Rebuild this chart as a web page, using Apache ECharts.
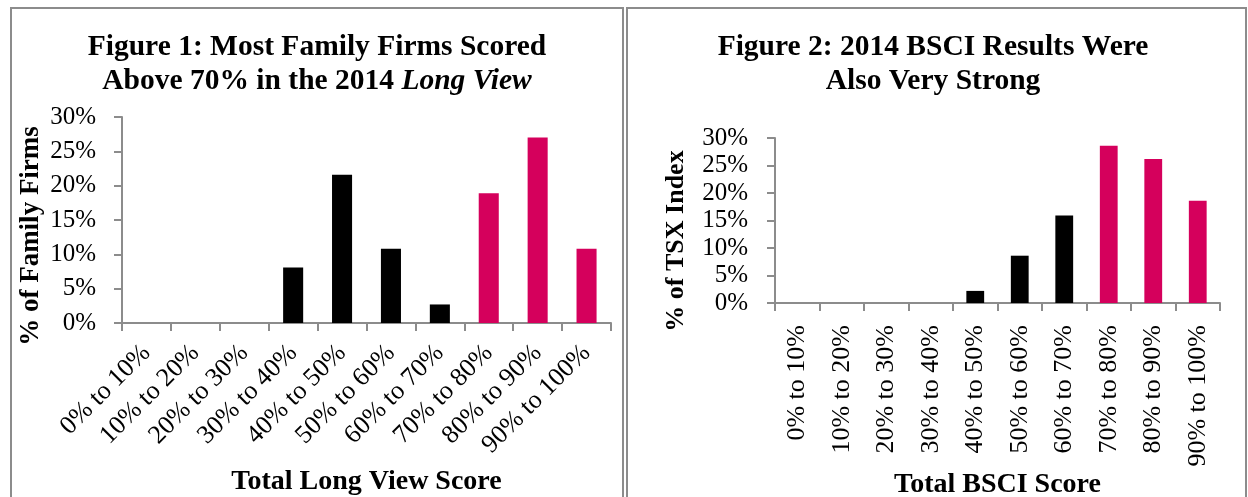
<!DOCTYPE html>
<html>
<head>
<meta charset="utf-8">
<script src="https://cdn.jsdelivr.net/npm/echarts@6/dist/echarts.min.js"></script>
<style>
  html, body { margin: 0; padding: 0; background: #fff; }
  #chart { width: 1248px; height: 497px; }
</style>
</head>
<body>
<div id="chart"></div>
<script>
// score bands (same for both figures)
const categories = ['0% to 10%', '10% to 20%', '20% to 30%', '30% to 40%', '40% to 50%',
  '50% to 60%', '60% to 70%', '70% to 80%', '80% to 90%', '90% to 100%']
// % of family firms, Long View score
const longViewValues = [0, 0, 0, 8.1, 21.6, 10.8, 2.7, 18.9, 27.0, 10.8]
// % of TSX index, BSCI score
const bsciValues = [0, 0, 0, 0, 2.2, 8.6, 15.9, 28.6, 26.2, 18.6]
// y axis ticks: 0% .. 30%
const yTicks = [0, 5, 10, 15, 20, 25, 30]
// bands from 70% upward are pink
const highlightFrom = 7

const serif = '"Liberation Serif", "DejaVu Serif", serif'
const pink = '#D5005C'
const axisGrey = '#8c8c8c'

let myChart = echarts.init(document.getElementById('chart'))

function barColor (params) {
  return params.dataIndex >= highlightFrom ? pink : '#000'
}

function xAxisFor (gridIndex, name, rotate, margin, nameGap) {
  return {
    type: 'category',
    gridIndex: gridIndex,
    data: categories,
    name: name,
    nameLocation: 'middle',
    nameGap: nameGap,
    nameTextStyle: { fontFamily: serif, fontWeight: 'bold', fontSize: 28, color: '#000' },
    axisLine: { lineStyle: { color: axisGrey, width: 2 } },
    axisTick: { show: true, length: 8, alignWithLabel: false, lineStyle: { color: axisGrey, width: 2 } },
    axisLabel: { interval: 0, rotate: rotate, margin: margin, fontFamily: serif, fontSize: 26, color: '#000' },
    splitLine: { show: false }
  }
}

function yAxisFor (gridIndex, margin) {
  return {
    type: 'value',
    gridIndex: gridIndex,
    min: yTicks[0],
    max: yTicks[yTicks.length - 1],
    interval: yTicks[1] - yTicks[0],
    axisLine: { show: true, lineStyle: { color: axisGrey, width: 2 } },
    axisTick: { show: true, length: 8, lineStyle: { color: axisGrey, width: 2 } },
    axisLabel: { margin: margin, fontFamily: serif, fontSize: 25, color: '#000', formatter: '{value}%' },
    splitLine: { show: false }
  }
}

let option = {
  animation: false,
  backgroundColor: '#fff',
  title: [{
    text: '{b|Figure 1: Most Family Firms Scored}\n{b|Above 70% in the 2014 }{i|Long View}',
    left: 317,
    top: 30,
    padding: 0,
    textAlign: 'center',
    textStyle: {
      rich: {
        b: { fontFamily: serif, fontWeight: 'bold', fontSize: 29.5, color: '#000', lineHeight: 34 },
        i: { fontFamily: serif, fontStyle: 'italic', fontSize: 29.5, color: '#000', lineHeight: 34 }
      }
    }
  }, {
    text: '{b|Figure 2: 2014 BSCI Results Were}\n{b|Also Very Strong}',
    left: 933,
    top: 30,
    padding: 0,
    textAlign: 'center',
    textStyle: {
      rich: {
        b: { fontFamily: serif, fontWeight: 'bold', fontSize: 29.5, color: '#000', lineHeight: 34 }
      }
    }
  }],
  grid: [
    { left: 122, top: 117, width: 489, height: 206, outerBoundsMode: 'none', containLabel: false },
    { left: 775, top: 138, width: 445, height: 165, outerBoundsMode: 'none', containLabel: false }
  ],
  xAxis: [
    xAxisFor(0, 'Total Long View Score', 45, 26, 145),
    xAxisFor(1, 'Total BSCI Score', 90, 22, 162)
  ],
  yAxis: [
    yAxisFor(0, 26),
    yAxisFor(1, 27)
  ],
  series: [{
    type: 'bar',
    name: 'Long View',
    xAxisIndex: 0,
    yAxisIndex: 0,
    barWidth: '41%',
    itemStyle: { color: barColor },
    data: longViewValues
  }, {
    type: 'bar',
    name: 'BSCI',
    xAxisIndex: 1,
    yAxisIndex: 1,
    barWidth: '40%',
    itemStyle: { color: barColor },
    data: bsciValues
  }],
  graphic: [
    // panel borders
    { type: 'rect', shape: { x: 11, y: 8, width: 612, height: 520 }, style: { fill: 'none', stroke: axisGrey, lineWidth: 2 }, silent: true },
    { type: 'rect', shape: { x: 627, y: 8, width: 619, height: 520 }, style: { fill: 'none', stroke: axisGrey, lineWidth: 2 }, silent: true },
    // y axis titles
    { type: 'text', x: 31, y: 236, rotation: Math.PI / 2, silent: true,
      style: { text: '% of Family Firms', font: 'bold 27px ' + serif, fill: '#000', align: 'center', verticalAlign: 'middle' } },
    { type: 'text', x: 676, y: 241, rotation: Math.PI / 2, silent: true,
      style: { text: '% of TSX Index', font: 'bold 26px ' + serif, fill: '#000', align: 'center', verticalAlign: 'middle' } }
  ]
}

myChart.setOption(option, true)
window.addEventListener('resize', function () {
  myChart.resize()
})
</script>
</body>
</html>
